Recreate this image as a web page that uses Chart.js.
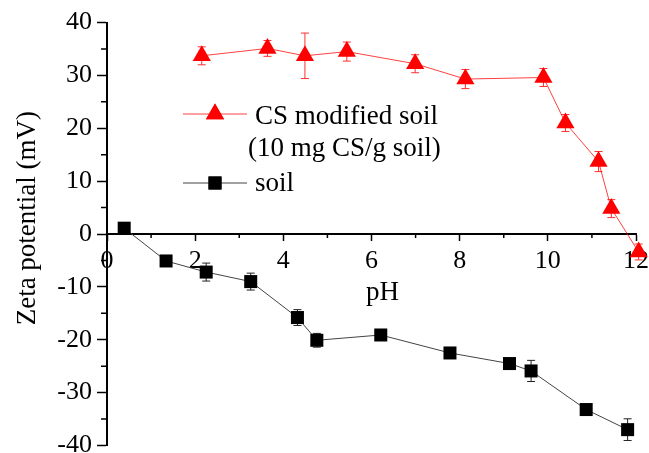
<!DOCTYPE html>
<html>
<head>
<meta charset="utf-8">
<script src="https://cdn.jsdelivr.net/npm/chart.js@4.4.0/dist/chart.umd.min.js"></script>
<style>
  html, body { margin: 0; padding: 0; background: #fff; overflow: hidden; }
  #wrap { width: 649px; height: 456px; }
</style>
</head>
<body>
<div id="wrap"><canvas id="zetaChart"></canvas></div>
<script>
// soil
const phSoil = [0.39, 1.34, 2.25, 3.26, 4.32, 4.76, 6.21, 7.78, 9.13, 9.62, 10.87, 11.81];
const zetaSoil = [1.1, -5.1, -7.2, -9.0, -15.8, -20.1, -19.1, -22.5, -24.5, -25.9, -33.2, -37.0];
const errSoil = [0.5, 0.5, 1.7, 1.6, 1.5, 1.3, 0.8, 1.0, 0.8, 2.0, 0.8, 2.05];

// CS modified soil
const phCS = [2.15, 3.64, 4.49, 5.44, 6.99, 8.13, 9.90, 10.40, 11.15, 11.44, 12.06];
const zetaCS = [33.7, 35.1, 33.7, 34.5, 32.2, 29.3, 29.6, 21.0, 13.7, 4.8, -3.4];
const errCS = [1.7, 1.5, 4.3, 1.8, 1.7, 1.8, 1.7, 1.6, 1.9, 1.7, 1.5];

const seriesNames = ["CS modified soil\n(10 mg CS/g soil)", "soil"];
const xTitle = "pH";
const yTitle = "Zeta potential (mV)";
const xTickStep = 2;
const yTickStep = 10;

const serif = "'Liberation Serif', 'Times New Roman', serif";

function toPoints(xs, ys) {
  return xs.map((x, i) => ({ x: x, y: ys[i] }));
}

function noPadding(scale) {
  scale.paddingLeft = 0;
  scale.paddingRight = 0;
  scale.paddingTop = 0;
  scale.paddingBottom = 0;
}

// error bars, drawn under the markers
const errorBarPlugin = {
  id: "errorBars",
  beforeDatasetsDraw(chart) {
    const ctx = chart.ctx;
    const xs = chart.scales.x;
    const ys = chart.scales.y;
    chart.data.datasets.forEach((ds) => {
      if (!ds.errors) return;
      ctx.save();
      ctx.strokeStyle = ds.errorColor;
      ctx.lineWidth = 1;
      ds.data.forEach((p, i) => {
        const px = xs.getPixelForValue(p.x);
        const top = ys.getPixelForValue(p.y + ds.errors[i]);
        const bot = ys.getPixelForValue(p.y - ds.errors[i]);
        ctx.beginPath();
        ctx.moveTo(px, top);
        ctx.lineTo(px, bot);
        ctx.moveTo(px - 4, top);
        ctx.lineTo(px + 4, top);
        ctx.moveTo(px - 4, bot);
        ctx.lineTo(px + 4, bot);
        ctx.stroke();
      });
      ctx.restore();
    });
  },
};

// minor ticks between the labelled ones + axis titles
const axisExtrasPlugin = {
  id: "axisExtras",
  afterDraw(chart) {
    const ctx = chart.ctx;
    const xs = chart.scales.x;
    const ys = chart.scales.y;
    const y0 = ys.getPixelForValue(0);
    ctx.save();
    ctx.strokeStyle = "#000";
    ctx.lineWidth = 1.5;
    ctx.beginPath();
    for (let v = xs.min + xTickStep / 2; v < xs.max; v += xTickStep) {
      const px = xs.getPixelForValue(v);
      ctx.moveTo(px, y0);
      ctx.lineTo(px, y0 + 4);
    }
    for (let v = ys.min + yTickStep / 2; v < ys.max; v += yTickStep) {
      const py = ys.getPixelForValue(v);
      ctx.moveTo(xs.left, py);
      ctx.lineTo(xs.left - 6, py);
    }
    ctx.stroke();

    ctx.fillStyle = "#000";
    ctx.font = "27px " + serif;
    ctx.textAlign = "center";
    ctx.textBaseline = "middle";
    ctx.fillText(xTitle, xs.getPixelForValue(6.25), y0 + 59);
    ctx.translate(28, ys.getPixelForValue(3));
    ctx.rotate(-Math.PI / 2);
    ctx.fillText(yTitle, 0, 0);
    ctx.restore();
  },
};

// custom legend inside the plot
const legendPlugin = {
  id: "insideLegend",
  afterDraw(chart) {
    const ctx = chart.ctx;
    const rows = [
      { ds: chart.data.datasets[0], y: 114, textY: 124 },
      { ds: chart.data.datasets[1], y: 183, textY: 191 },
    ];
    ctx.save();
    ctx.font = "27px " + serif;
    ctx.textBaseline = "alphabetic";
    rows.forEach((row) => {
      const ds = row.ds;
      ctx.strokeStyle = ds.borderColor;
      ctx.lineWidth = 1;
      ctx.beginPath();
      ctx.moveTo(183, row.y);
      ctx.lineTo(247, row.y);
      ctx.stroke();
      Chart.helpers.drawPoint(ctx, {
        pointStyle: ds.pointStyle,
        radius: ds.pointRadius,
        borderWidth: 0,
      }, 215, row.y);
      ctx.fillStyle = ds.pointBackgroundColor;
      ctx.fill();
      ctx.fillStyle = "#000";
      ds.label.split("\n").forEach((line, i) => {
        ctx.fillText(line, i === 0 ? 255 : 248, row.textY + i * 32);
      });
    });
    ctx.restore();
  },
};

const ctx = document.getElementById("zetaChart");

new Chart(ctx, {
  type: "scatter",
  data: {
    datasets: [
      {
        label: seriesNames[0],
        data: toPoints(phCS, zetaCS),
        errors: errCS,
        errorColor: "#ff3030",
        showLine: true,
        borderColor: "rgba(255, 0, 0, 0.75)",
        borderWidth: 1,
        pointStyle: "triangle",
        pointRadius: 10.5,
        pointBackgroundColor: "#ff0000",
        pointBorderColor: "#ff0000",
        pointBorderWidth: 0,
        clip: false,
      },
      {
        label: seriesNames[1],
        data: toPoints(phSoil, zetaSoil),
        errors: errSoil,
        errorColor: "#222",
        showLine: true,
        borderColor: "#444",
        borderWidth: 1,
        pointStyle: "rect",
        pointRadius: 9.2,
        pointBackgroundColor: "#000",
        pointBorderColor: "#000",
        pointBorderWidth: 0,
        clip: false,
      },
    ],
  },
  options: {
    responsive: true,
    maintainAspectRatio: false,
    animation: false,
    layout: { padding: { top: 22.5, bottom: 7.5, right: 13, left: 0 } },
    plugins: {
      legend: { display: false },
      tooltip: { enabled: false },
    },
    scales: {
      x: {
        type: "linear",
        min: 0,
        max: 12,
        position: { y: 0 },
        border: { color: "#000", width: 2 },
        grid: { drawOnChartArea: false, tickLength: 6, tickColor: "#000", tickWidth: 1.5 },
        ticks: { stepSize: xTickStep, color: "#000", padding: 6, font: { family: serif, size: 26 } },
        afterFit: noPadding,
      },
      y: {
        min: -40,
        max: 40,
        position: "left",
        border: { color: "#000", width: 2 },
        grid: { drawOnChartArea: false, tickLength: 10, tickColor: "#000", tickWidth: 1.5 },
        ticks: { stepSize: yTickStep, color: "#000", padding: 5, font: { family: serif, size: 26 } },
        afterFit(scale) {
          scale.width = 107;
          noPadding(scale);
        },
      },
    },
  },
  plugins: [errorBarPlugin, axisExtrasPlugin, legendPlugin],
});
</script>
</body>
</html>
